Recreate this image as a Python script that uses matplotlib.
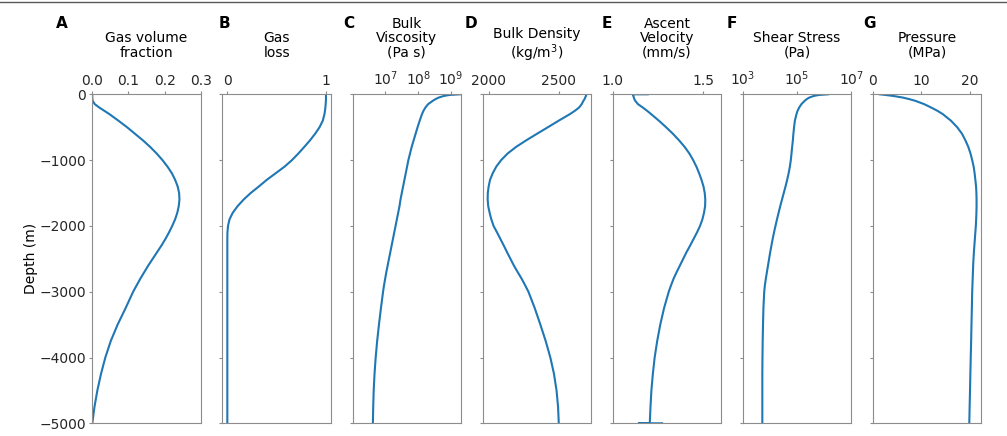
import numpy as np
import matplotlib
matplotlib.use("Agg")
import matplotlib.pyplot as plt
from matplotlib.lines import Line2D

# depth grid (m) the profiles were read at
depth = [0, -10, -25, -50, -75, -100, -150, -200, -250,
         -300, -400, -500, -600, -700, -800, -900, -1000, -1100, -1200, -1300,
         -1400, -1500, -1600, -1700, -1800, -1900, -2000, -2100, -2200, -2300,
         -2400, -2500, -2600, -2700, -2800, -2900, -3000,
         -3250, -3500, -3750, -4000, -4250, -4500, -4750, -5000]

gas_fraction = [0, 0, 0, 0, 0.0003, 0.001, 0.007, 0.019, 0.033,
                0.047, 0.072, 0.096, 0.118, 0.140, 0.160, 0.178, 0.194, 0.208, 0.220, 0.229,
                0.236, 0.240, 0.241, 0.239, 0.235, 0.229, 0.221, 0.212, 0.202, 0.191,
                0.179, 0.167, 0.155, 0.144, 0.133, 0.123, 0.113,
                0.092, 0.070, 0.051, 0.036, 0.024, 0.014, 0.006, 0.0]

gas_loss = [1, 1, 1, 1, 1, 0.999, 0.997, 0.994, 0.99,
            0.985, 0.968, 0.935, 0.89, 0.838, 0.78, 0.72, 0.655, 0.58, 0.49, 0.40,
            0.32, 0.237, 0.165, 0.104, 0.055, 0.022, 0.007, 0.001, 0, 0,
            0, 0, 0, 0, 0, 0, 0,
            0, 0, 0, 0, 0, 0, 0, 0]

# log10 of bulk viscosity (Pa s)
log_viscosity = [9.27, 8.95, 8.78, 8.62, 8.52, 8.44, 8.30, 8.22, 8.16,
                 8.115, 8.045, 7.98, 7.92, 7.86, 7.80, 7.75, 7.70, 7.66, 7.62, 7.58,
                 7.54, 7.50, 7.46, 7.43, 7.39, 7.35, 7.31, 7.27, 7.23, 7.19,
                 7.15, 7.11, 7.07, 7.03, 6.995, 6.96, 6.93,
                 6.865, 6.805, 6.75, 6.705, 6.67, 6.645, 6.63, 6.62]

bulk_density = [2696, 2695, 2693, 2688, 2683, 2675, 2663, 2645, 2615,
                2580, 2500, 2423, 2345, 2268, 2196, 2136, 2090, 2055, 2030, 2011,
                2001, 1995, 1994, 1998, 2008, 2020, 2036, 2061, 2085, 2109,
                2132, 2156, 2180, 2207, 2235, 2260, 2284,
                2329, 2369, 2407, 2440, 2466, 2484, 2495, 2500]

# ascent velocity has a little jump at both ends of the conduit
vel_depth = [0] + depth + [-5000, -5000]
ascent_velocity = [1.194,
                   1.111, 1.112, 1.114, 1.117, 1.120, 1.125, 1.140, 1.166, 1.190,
                   1.212, 1.255, 1.295, 1.333, 1.367, 1.398, 1.424, 1.445, 1.463, 1.478, 1.491,
                   1.502, 1.509, 1.512, 1.511, 1.505, 1.496, 1.483, 1.466, 1.447, 1.428,
                   1.408, 1.390, 1.372, 1.354, 1.337, 1.323, 1.310,
                   1.284, 1.263, 1.246, 1.232, 1.222, 1.214, 1.209, 1.205,
                   1.144, 1.273]

# log10 of shear stress (Pa)
log_shear = [6.15, 5.80, 5.62, 5.45, 5.35, 5.28, 5.16, 5.08, 5.02,
             4.98, 4.92, 4.89, 4.865, 4.845, 4.82, 4.795, 4.77, 4.735, 4.69, 4.635,
             4.575, 4.51, 4.445, 4.38, 4.32, 4.26, 4.205, 4.15, 4.10, 4.055,
             4.01, 3.97, 3.93, 3.89, 3.85, 3.815, 3.79,
             3.76, 3.745, 3.733, 3.725, 3.72, 3.72, 3.72, 3.72]

pressure = [1.4, 2.6, 4.2, 6.2, 7.6, 8.8, 10.6, 12.0, 13.3,
            14.4, 16.1, 17.4, 18.4, 19.1, 19.7, 20.15, 20.5, 20.8, 21.0, 21.15,
            21.3, 21.37, 21.4, 21.4, 21.37, 21.32, 21.25, 21.15, 21.05, 20.95,
            20.85, 20.77, 20.7, 20.65, 20.6, 20.55, 20.5,
            20.43, 20.35, 20.28, 20.2, 20.12, 20.05, 19.97, 19.9]

letters = ["A", "B", "C", "D", "E", "F", "G"]
titles = ["Gas volume\nfraction", "Gas\nloss", "Bulk\nViscosity\n(Pa s)",
          "Bulk Density\n(kg/m$^3$)", "Ascent\nVelocity\n(mm/s)",
          "Shear Stress\n(Pa)", "Pressure\n(MPa)"]
letter_x = [56, 219, 343, 465, 602, 727, 863]  # px, left edge of panel letter
title_drop = [0, 0, 0, 4, 0, 0, 0]  # px, mathtext line sits a bit high

W, H = 1007, 436
fig = plt.figure(figsize=(W / 100, H / 100), dpi=100)

profiles = [
    (gas_fraction, depth),
    (gas_loss, depth),
    (10 ** np.array(log_viscosity), depth),
    (bulk_density, depth),
    (ascent_velocity, vel_depth),
    (10 ** np.array(log_shear), depth),
    (pressure, depth),
]

gray = "0.55"
axes = []
for i in range(7):
    left = (92.3 + 130.1 * i) / W
    ax = fig.add_axes([left, 1 - 423.3 / H, 108.5 / W, 329 / H],
                      sharey=axes[0] if axes else None)
    axes.append(ax)
    x, y = profiles[i]
    ax.plot(x, y, color="#1f77b4", lw=1.5)

    ax.xaxis.tick_top()
    for s in ax.spines.values():
        s.set_color(gray)
    # fixed title height so all panels line up regardless of tick label size
    ty = 1 + (94.3 - 55.6 - 4 - title_drop[i]) / 329
    ax.set_title(titles[i], fontsize=10, y=ty, pad=0, va="bottom",
                 linespacing=1.05)
    fig.text(letter_x[i] / W, 1 - 23 / H, letters[i], fontsize=11,
             fontweight="bold", va="center", ha="left")
    if i > 0:
        ax.tick_params(labelleft=False)

ax = axes[0]
ax.set_ylim(-5000, 0)
ax.set_yticks([0, -1000, -2000, -3000, -4000, -5000])
ax.set_ylabel("Depth (m)", fontsize=10, labelpad=1)

axes[0].set_xlim(0, 0.3)
axes[0].set_xticks([0.0, 0.1, 0.2, 0.3])
axes[0].set_xticklabels(["0.0", "0.1", "0.2", "0.3"])

axes[1].set_xlim(-0.05, 1.05)
axes[1].set_xticks([0, 1])

axes[2].set_xscale("log")
axes[2].set_xlim(1e6, 2e9)
axes[2].set_xticks([1e7, 1e8, 1e9])

axes[3].set_xlim(1958, 2730)
axes[3].set_xticks([2000, 2500])

axes[4].set_xlim(1.0, 1.6)
axes[4].set_xticks([1.0, 1.5])

axes[5].set_xscale("log")
axes[5].set_xlim(1e3, 1e7)
axes[5].set_xticks([1e3, 1e5, 1e7])

axes[6].set_xlim(0, 22.4)
axes[6].set_xticks([0, 10, 20])

for a in axes:
    a.tick_params(which="both", colors=gray, labelcolor="0.15", labelsize=10,
                  length=2.5, pad=1.8)
    a.tick_params(which="minor", length=1.5)

# thin frame line along the top of the figure
fig.add_artist(Line2D([0, 1], [1 - 2.5 / H, 1 - 2.5 / H], transform=fig.transFigure,
                      color="0.35", lw=1))

fig.savefig("out.png", dpi=100)
